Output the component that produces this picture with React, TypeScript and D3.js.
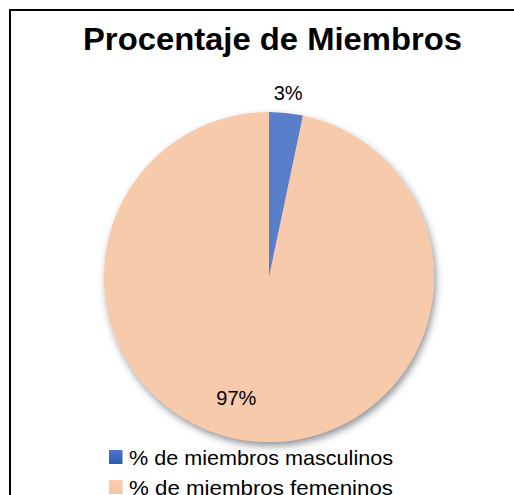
import React from "react";
import * as d3 from "d3";

const categories = ["% de miembros masculinos", "% de miembros femeninos"];
const values = [3.3, 96.7];
const labels = ["3%", "97%"];
const colors = ["#5A7FCA", "#F7CAAB"];
const title = "Procentaje de Miembros";

export default function App() {
  const W = 514;
  const H = 495;
  const cx = 269;
  const cy = 277;
  const R = 165;

  const pie = d3.pie<number>().sort(null).value((d) => d)(values);
  const arc = d3.arc<d3.PieArcDatum<number>>().innerRadius(0).outerRadius(R);

  const labelPos = (d: d3.PieArcDatum<number>, i: number) => {
    const mid = (d.startAngle + d.endAngle) / 2;
    const r = i === 0 ? R + 20 : R * 0.76;
    const a = i === 0 ? mid : mid + 0.16;
    return [Math.sin(a) * r, -Math.cos(a) * r];
  };

  return (
    <svg
      width={W}
      height={H}
      style={{ position: "absolute", left: 0, top: 0, display: "block" }}
      fontFamily="'Liberation Sans', Arial, sans-serif"
    >
      <defs>
        <filter id="shadow" x="-20%" y="-20%" width="140%" height="140%">
          <feDropShadow dx="2" dy="4" stdDeviation="3.5" floodColor="#3a3f4a" floodOpacity="0.55" />
        </filter>
        <linearGradient id="blueSq" x1="0" y1="0" x2="0" y2="1">
          <stop offset="0" stopColor="#4C79CE" />
          <stop offset="1" stopColor="#2C5AB2" />
        </linearGradient>
        <linearGradient id="peachSq" x1="0" y1="0" x2="0" y2="1">
          <stop offset="0" stopColor="#F9CDB0" />
          <stop offset="1" stopColor="#F5C5A4" />
        </linearGradient>
      </defs>
      <rect x={0} y={0} width={W} height={H} fill="#fff" />
      <rect x={10} y={10} width={W + 20} height={H + 20} fill="#fff" stroke="#000" strokeWidth={2} />
      <text
        x={272.5}
        y={50}
        textAnchor="middle"
        fontSize={32}
        fontWeight="bold"
        fill="#000"
        textLength={379}
        lengthAdjust="spacingAndGlyphs"
      >
        {title}
      </text>
      <g transform={`translate(${cx},${cy})`}>
        <g filter="url(#shadow)">
          {pie.map((d, i) => (
            <path key={i} d={arc(d) as string} fill={colors[i]} />
          ))}
        </g>
        {pie.map((d, i) => {
          const [x, y] = labelPos(d, i);
          return (
            <text key={i} x={x} y={y} textAnchor="middle" dominantBaseline="central" fontSize={20} fill="#000">
              {labels[i]}
            </text>
          );
        })}
      </g>
      <g transform="translate(109,450)">
        {categories.map((c, i) => (
          <g key={i} transform={`translate(0,${i * 30})`}>
            <rect x={0} y={0} width={13.5} height={14} fill={i === 0 ? "url(#blueSq)" : "url(#peachSq)"} />
            <text
              x={20}
              y={14.5}
              fontSize={21}
              fill="#000"
              textLength={264}
              lengthAdjust="spacingAndGlyphs"
            >
              {c}
            </text>
          </g>
        ))}
      </g>
    </svg>
  );
}
